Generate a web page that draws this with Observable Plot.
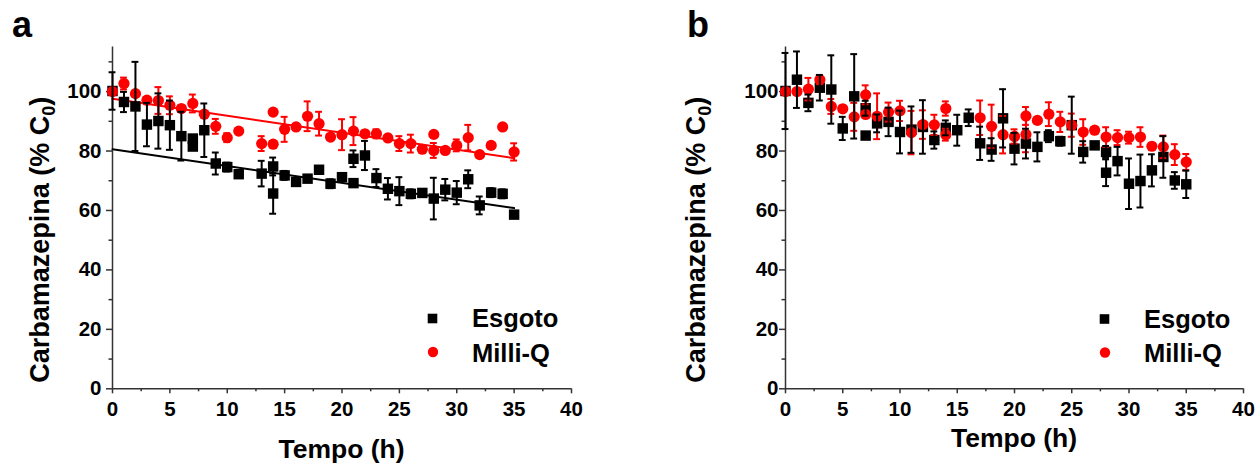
<!DOCTYPE html>
<html>
<head>
<meta charset="utf-8">
<script src="https://cdn.jsdelivr.net/npm/d3@7"></script>
<script src="https://cdn.jsdelivr.net/npm/@observablehq/plot@0.6"></script>
<style>
  body { margin: 0; background: #fff; }
  #wrap { position: relative; width: 1257px; height: 463px; overflow: hidden; }
  #wrap svg { position: absolute; top: 0; }
</style>
</head>
<body>
<div id="wrap"></div>
<script>
// ---------- data ----------
const xTicks = [0, 5, 10, 15, 20, 25, 30, 35, 40];
const xMinor = [2.5, 7.5, 12.5, 17.5, 22.5, 27.5, 32.5, 37.5];
const yTicks = [0, 20, 40, 60, 80, 100];
const yMinor = [10, 30, 50, 70, 90, 110];
const seriesNames = ["Esgoto", "Milli-Q"];
const panelNames = ["a", "b"];
const xTitle = "Tempo (h)";

// Panel a
const aEsgotoT = [0,1,2,3,4,5,6,7,7,8,9,10,11,13,14,14,15,16,17,18,19,20,21,21,22,23,24,25,26,27,28,29,30,31,32,33,34,35];
const aEsgotoY = [100.2,96.5,95,88.9,90.1,88.7,85,84.2,81.5,87,75.8,74.6,72.2,72.4,74.8,65.7,71.8,69.6,70.7,73.7,69,71.2,77.4,69.2,78.5,70.9,67.3,66.5,65.6,65.9,64,67,66,70.5,61.7,66,65.6,58.6];
const aEsgotoE = [6.3,3.4,15,7.3,9.3,8.3,8.2,1,1,9,3.7,1.5,1,4.3,3,6.8,1.5,1,1,1,1.5,1,2.8,1,4.9,3,3.6,4.7,1.5,1,7,3.6,3.9,3,3,1.5,1.5,0.5];
const aMilliQT = [0,1,2,3,4,5,6,7,8,9,10,11,13,14,14,15,16,17,18,19,20,21,22,23,24,25,26,27,28,28,29,30,31,32,33,34,35];
const aMilliQY = [100,102.7,99.3,97.1,97,95.4,94.3,96,92.4,88.3,84.5,86.7,82.5,93.1,82.3,87.3,88.1,91.7,89.2,84.7,85.5,86.7,85.8,85.8,84.4,82.5,82.5,80.6,85.6,80.2,80.2,81.9,84.5,78.8,81.9,88.1,79.7];
const aMilliQE = [0.5,2,1,1,4.5,3,1,3,1,2.5,1.5,0.5,2.5,0.5,1,4.2,1,5,4,1,5.2,4.7,1,1.5,1,2.5,3,1,0.5,2.5,1,2,4.3,1,1,0.5,2.9];
const fitT = [0, 35];
const aEsgotoFit = [80.6, 60.8];
const aMilliQFit = [97.6, 77.6];

// Panel b
const bEsgotoT = [0,1,2,3,4,5,6,7,7,8,9,10,11,12,13,14,15,16,17,18,19,20,21,22,23,24,25,26,27,28,28,29,30,31,32,33,34,35];
const bEsgotoY = [100.2,104,96.2,101.3,100.7,87.6,98.4,94.4,85.2,89.3,89.8,86.4,87.2,88.1,83.7,87.8,87,91.2,82.6,80.5,91,80.8,82.5,81.4,85,83.3,88.7,79.7,81.9,79.7,72.7,76.6,69,69.9,73.5,78,70.1,68.8];
const bEsgotoE = [12.8,9.5,2.8,4.3,11.5,3.9,14.2,2.5,0.5,3,4.8,7.2,7.8,9,2.9,2.5,5.2,2.8,5.6,3.8,9.8,5.3,5,4.9,2,1.5,9.6,3.6,1,2,4.5,4.8,8.5,8.9,5.4,7,2.8,4.6];
const bMilliQT = [0,1,2,3,4,5,6,7,7,8,9,10,11,12,13,14,14,17,18,19,20,21,21,22,23,24,25,26,27,28,29,30,31,32,33,34,35];
const bMilliQY = [100,100,100.8,104,95,94.2,91.5,98.9,92.3,91.7,93.1,93.5,86.2,88.9,88.8,94.3,85.5,91.2,88.3,85.5,84.9,91.8,85.6,90.3,92.4,89.8,88.7,86.4,87,84.7,84.5,84.5,84.7,81.6,81.4,78.8,76.3];
const bMilliQE = [0.5,0.5,3.8,1.5,2.5,1,4.7,3.2,1,7.7,3.2,3.4,7.3,4.8,3.4,2.4,2,5.8,7.3,6.3,2.4,3,6,1,4,3.4,3.9,4.3,1,3.3,2.5,2,3.3,1,3.8,3.5,2.7];

// ---------- helpers ----------
const RED = "#ff0000", BLACK = "#000000", AXIS = "#333333";
const FONT = "'Liberation Sans', Arial, sans-serif";
const rows = (T, Y, E) => T.map((t, i) => ({t, y: Y[i], e: E[i]}));

function errMarks(data, color) {
  return [
    Plot.ruleX(data, {x: "t", y1: d => d.y - d.e, y2: d => d.y + d.e, stroke: color, strokeWidth: 2}),
    Plot.ruleY(data, {y: d => d.y + d.e, x1: d => d.t - 0.3, x2: d => d.t + 0.3, stroke: color, strokeWidth: 2}),
    Plot.ruleY(data, {y: d => d.y - d.e, x1: d => d.t - 0.3, x2: d => d.t + 0.3, stroke: color, strokeWidth: 2})
  ];
}

function panel(cfg) {
  const esg = rows(cfg.esgT, cfg.esgY, cfg.esgE);
  const mq = rows(cfg.mqT, cfg.mqY, cfg.mqE);
  const fits = cfg.fits || [];
  const plot = Plot.plot({
    width: cfg.width,
    height: 463,
    marginLeft: cfg.marginLeft,
    marginRight: cfg.marginRight,
    marginTop: 46.5,
    marginBottom: 74.7,
    style: {fontFamily: FONT, fontSize: "20.5px", fontWeight: "bold", color: "#000", background: "transparent", overflow: "visible"},
    x: {domain: [0, 40], label: null},
    y: {domain: [0, 115], label: null},
    marks: [
      Plot.axisX({ticks: xTicks, tickSize: 5, tickPadding: 8, stroke: AXIS, strokeWidth: 1.5, fill: "#000", label: null, tickFormat: d => String(d)}),
      Plot.axisX({ticks: xMinor, tickSize: 3, stroke: AXIS, strokeWidth: 1.5, fill: "none", label: null}),
      Plot.axisY({ticks: yTicks, tickSize: 6, tickPadding: cfg.yPad, stroke: AXIS, strokeWidth: 1.5, fill: "#000", label: null, tickFormat: d => String(d)}),
      Plot.axisY({ticks: yMinor, tickSize: 3.5, stroke: AXIS, strokeWidth: 1.5, fill: "none", label: null}),
      Plot.ruleY([0], {stroke: AXIS, strokeWidth: 1.5}),
      Plot.ruleX([0], {stroke: AXIS, strokeWidth: 1.5}),
      ...fits.map(f => Plot.line(fitT.map((t, i) => ({t, y: f.vals[i]})), {x: "t", y: "y", stroke: f.color, strokeWidth: 2})),
      Plot.dot(esg, {x: "t", y: "y", symbol: "square", r: 5.9, fill: BLACK, stroke: "none"}),
      Plot.dot(mq, {x: "t", y: "y", symbol: "circle", r: 5.6, fill: RED, stroke: "none"}),
      ...errMarks(mq, RED),
      ...errMarks(esg, BLACK)
    ]
  });
  plot.style.left = cfg.left + "px";

  const svg = d3.select(plot);
  const xs = plot.scale("x"), ys = plot.scale("y");
  const g = svg.append("g").attr("font-family", FONT).attr("font-weight", "bold").attr("fill", "#000");

  // panel letter
  g.append("text").attr("x", cfg.letterX).attr("y", 37).attr("text-anchor", "start").attr("font-size", 36).text(cfg.letter);

  // y title with subscript
  const yt = g.append("text")
    .attr("transform", `translate(${cfg.yTitleX},${ys.apply(50)}) rotate(-90)`)
    .attr("text-anchor", "middle").attr("font-size", 27);
  yt.append("tspan").text("Carbamazepina (% C");
  yt.append("tspan").attr("font-size", 18).attr("dy", 6).text("0");
  yt.append("tspan").attr("dy", -6).text(")");

  // x title
  g.append("text").attr("x", xs.apply(20)).attr("y", cfg.xTitleY).attr("text-anchor", "middle").attr("font-size", 26.5).text(xTitle);

  // legend
  const lg = g.append("g").attr("transform", `translate(${cfg.legX},${cfg.legY})`);
  lg.append("rect").attr("x", -4.8).attr("y", -4.8).attr("width", 9.6).attr("height", 9.6).attr("fill", BLACK);
  lg.append("circle").attr("cx", 0.5).attr("cy", 33.5).attr("r", 5.2).attr("fill", RED);
  lg.append("text").attr("x", 39.5).attr("y", 8.8).attr("text-anchor", "start").attr("font-size", 25.5).text(seriesNames[0]);
  lg.append("text").attr("x", 39.5).attr("y", 43).attr("text-anchor", "start").attr("font-size", 25.5).text(seriesNames[1]);

  return plot;
}

const wrap = document.getElementById("wrap");
wrap.appendChild(panel({
  left: 0, width: 628, marginLeft: 112, marginRight: 57, yPad: 5,
  esgT: aEsgotoT, esgY: aEsgotoY, esgE: aEsgotoE,
  mqT: aMilliQT, mqY: aMilliQY, mqE: aMilliQE,
  fits: [{vals: aEsgotoFit, color: BLACK}, {vals: aMilliQFit, color: RED}],
  letter: panelNames[0], letterX: 12, yTitleX: 49, xTitleY: 458,
  legX: 432.5, legY: 318.5
}));
wrap.appendChild(panel({
  left: 628, width: 629, marginLeft: 157, marginRight: 14, yPad: 1,
  esgT: bEsgotoT, esgY: bEsgotoY, esgE: bEsgotoE,
  mqT: bMilliQT, mqY: bMilliQY, mqE: bMilliQE,
  fits: [],
  letter: panelNames[1], letterX: 59, yTitleX: 77, xTitleY: 447,
  legX: 476.5, legY: 319
}));
</script>
</body>
</html>
